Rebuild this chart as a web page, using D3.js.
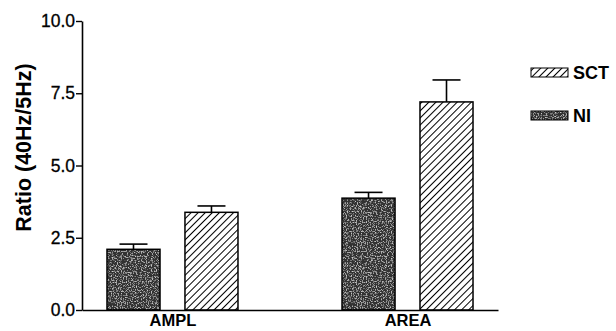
<!DOCTYPE html>
<html>
<head>
<meta charset="utf-8">
<script src="https://cdn.jsdelivr.net/npm/d3@7"></script>
<style>
  body { margin: 0; background: #fff; }
  svg { display: block; font-family: "Liberation Sans", Arial, sans-serif; }
</style>
</head>
<body>
<div class="container"></div>
<script>
var categories = ["AMPL", "AREA"];
var groups = ["NI", "SCT"];
var niValues = [2.1, 3.87];
var niErrors = [0.18, 0.2];
var sctValues = [3.38, 7.2];
var sctErrors = [0.22, 0.76];
var yTicks = [0, 2.5, 5, 7.5, 10];
var legendItems = ["SCT", "NI"];

var width = 616, height = 331;

var svg = d3.select('.container')
    .append('svg')
    .attr('width', width)
    .attr('height', height);

var defs = svg.append('defs');

// noisy dark fill for NI
var noise = defs.append('filter')
    .attr('id', 'grain')
    .attr('x', 0).attr('y', 0).attr('width', 1).attr('height', 1);
noise.append('feTurbulence')
    .attr('type', 'fractalNoise')
    .attr('baseFrequency', 0.8)
    .attr('numOctaves', 2)
    .attr('seed', 3)
    .attr('result', 'n');
noise.append('feColorMatrix')
    .attr('in', 'n')
    .attr('type', 'matrix')
    .attr('values', '0 0 0 0 0.6  0 0 0 0 0.6  0 0 0 0 0.6  3.4 0 0 0 -1.7')
    .attr('result', 'spots');
noise.append('feFlood').attr('flood-color', '#333').attr('result', 'base');
noise.append('feComposite').attr('in', 'spots').attr('in2', 'base').attr('operator', 'over');

var grainPat = defs.append('pattern')
    .attr('id', 'ni-fill')
    .attr('patternUnits', 'userSpaceOnUse')
    .attr('width', 60).attr('height', 60);
grainPat.append('rect')
    .attr('width', 60).attr('height', 60)
    .attr('filter', 'url(#grain)');

// diagonal hatch for SCT
var hatch = defs.append('pattern')
    .attr('id', 'sct-fill')
    .attr('patternUnits', 'userSpaceOnUse')
    .attr('width', 5).attr('height', 5)
    .attr('patternTransform', 'rotate(45)');
hatch.append('rect').attr('width', 5).attr('height', 5).attr('fill', '#fff');
hatch.append('line')
    .attr('x1', 0).attr('y1', 0).attr('x2', 0).attr('y2', 5)
    .attr('stroke', '#000').attr('stroke-width', 2);

function fillFor(g) { return g == 'NI' ? 'url(#ni-fill)' : 'url(#sct-fill)'; }

var x = d3.scalePoint().domain(categories).range([82, 498]).padding(0.385);
var xSub = d3.scaleBand().domain(groups).range([-65.5, 65.5]).paddingInner(0.32);
var y = d3.scaleLinear().domain([0, 10]).range([310, 21]);

var rows = [];
categories.forEach(function (c, i) {
    rows.push({ cat: c, group: 'NI', value: niValues[i], err: niErrors[i] });
    rows.push({ cat: c, group: 'SCT', value: sctValues[i], err: sctErrors[i] });
});

// error bars (upper only)
var errG = svg.append('g').attr('stroke', '#000').attr('stroke-width', 1.6);
rows.forEach(function (d) {
    var cx = x(d.cat) + xSub(d.group) + xSub.bandwidth() / 2;
    errG.append('line')
        .attr('x1', cx).attr('x2', cx)
        .attr('y1', y(d.value)).attr('y2', y(d.value + d.err));
    errG.append('line')
        .attr('x1', cx - 14).attr('x2', cx + 14)
        .attr('y1', y(d.value + d.err)).attr('y2', y(d.value + d.err));
});

svg.append('g')
    .selectAll('rect')
    .data(rows)
    .enter().append('rect')
    .attr('x', function (d) { return x(d.cat) + xSub(d.group); })
    .attr('y', function (d) { return y(d.value); })
    .attr('width', xSub.bandwidth())
    .attr('height', function (d) { return y(0) - y(d.value); })
    .attr('fill', function (d) { return fillFor(d.group); })
    .attr('stroke', '#000')
    .attr('stroke-width', 1.5);

// y axis
var yAxis = d3.axisLeft(y)
    .tickValues(yTicks)
    .tickFormat(d3.format('.1f'))
    .tickSize(6)
    .tickSizeOuter(0);
var yG = svg.append('g')
    .attr('transform', 'translate(82,0)')
    .call(yAxis);
yG.select('.domain').attr('stroke-width', 1.6);
yG.selectAll('.tick line').attr('stroke-width', 1.4);
yG.selectAll('.tick text')
    .attr('font-size', 17.5)
    .attr('font-family', '"Liberation Sans", Arial, sans-serif')
    .attr('fill', '#000')
    .attr('stroke', '#000')
    .attr('stroke-width', 0.3)
    .attr('x', -7);

// x axis: baseline with category labels
var xAxis = d3.axisBottom(x).tickSize(0).tickSizeOuter(0);
var xG = svg.append('g')
    .attr('transform', 'translate(0,' + y(0) + ')')
    .call(xAxis);
xG.select('.domain').attr('stroke-width', 1.6);
xG.selectAll('.tick text')
    .attr('font-size', 16.5)
    .attr('font-weight', 'bold')
    .attr('font-family', '"Liberation Sans", Arial, sans-serif')
    .attr('fill', '#000')
    .attr('dy', '0.71em')
    .attr('y', 4);

// y title
svg.append('text')
    .attr('transform', 'translate(31,' + ((y(0) + y(10)) / 2 - 18) + ') rotate(-90)')
    .attr('text-anchor', 'middle')
    .attr('font-size', 21.5)
    .attr('font-weight', 'bold')
    .text('Ratio (40Hz/5Hz)');

// legend
var legend = svg.append('g');
legendItems.forEach(function (g, i) {
    var ly = 68 + i * 43;
    legend.append('rect')
        .attr('x', 531).attr('y', ly)
        .attr('width', 37).attr('height', 9)
        .attr('fill', fillFor(g))
        .attr('stroke', '#000')
        .attr('stroke-width', 1);
    legend.append('text')
        .attr('x', 573).attr('y', ly + 11)
        .attr('font-size', 18)
        .attr('font-weight', 'bold')
        .text(g);
});
</script>
</body>
</html>
